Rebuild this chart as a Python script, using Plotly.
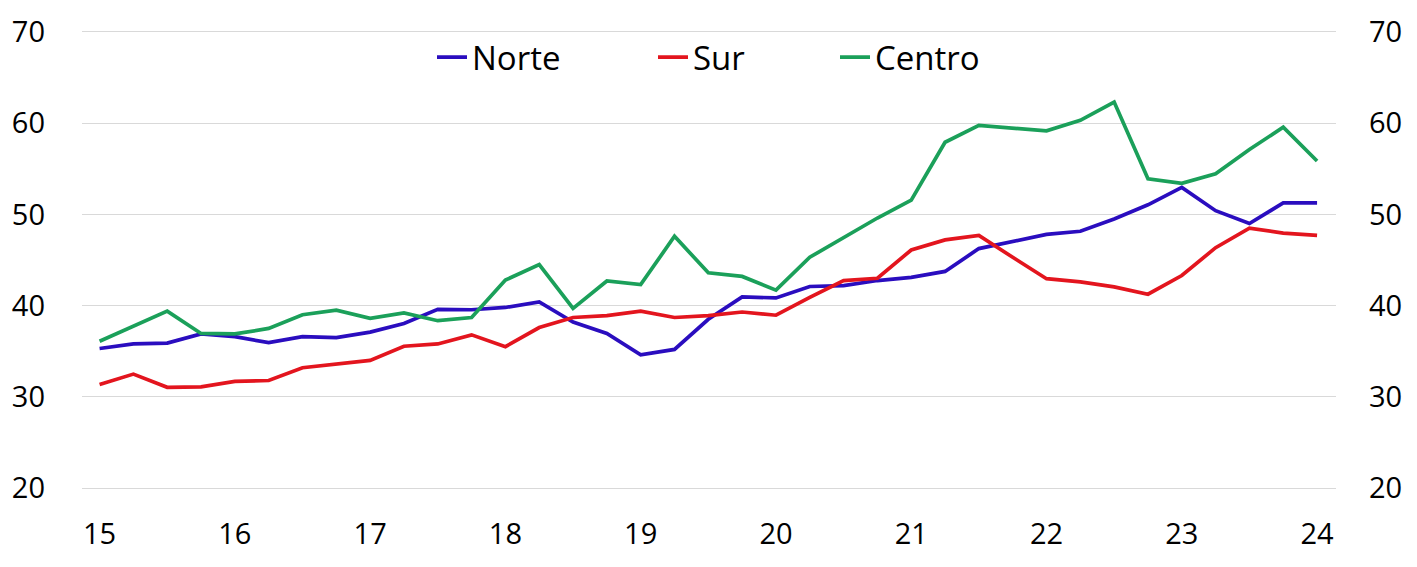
import plotly.graph_objects as go

# Quarterly positions (year labels 15..24)
x_vals = [15.0, 15.25, 15.5, 15.75, 16.0, 16.25, 16.5, 16.75, 17.0, 17.25, 17.5, 17.75,
          18.0, 18.25, 18.5, 18.75, 19.0, 19.25, 19.5, 19.75, 20.0, 20.25, 20.5, 20.75,
          21.0, 21.25, 21.5, 21.75, 22.0, 22.25, 22.5, 22.75, 23.0, 23.25, 23.5, 23.75, 24.0]

norte = [35.3, 35.8, 35.9, 36.9, 36.6, 35.95, 36.6, 36.5, 37.1, 38.05, 39.6, 39.55,
         39.8, 40.4, 38.2, 36.95, 34.6, 35.2, 38.5, 40.95, 40.85, 42.1, 42.2, 42.75,
         43.1, 43.75, 46.25, 47.05, 47.8, 48.15, 49.5, 51.05, 52.95, 50.4, 49.0, 51.25, 51.25]

sur = [31.35, 32.5, 31.05, 31.1, 31.7, 31.8, 33.2, 33.6, 34.0, 35.55, 35.8, 36.8,
       35.5, 37.6, 38.7, 38.9, 39.4, 38.7, 38.9, 39.3, 38.95, 40.9, 42.75, 43.0,
       46.1, 47.2, 47.7, 45.3, 42.95, 42.6, 42.05, 41.25, 43.3, 46.35, 48.5, 47.95, 47.7]

centro = [36.1, 37.7, 39.4, 36.95, 36.9, 37.5, 39.0, 39.5, 38.6, 39.2, 38.35, 38.7,
          42.8, 44.5, 39.7, 42.7, 42.3, 47.6, 43.6, 43.2, 41.7, 45.3, 47.5, 49.6,
          51.55, 57.9, 59.75, 59.45, 59.15, 60.3, 62.3, 53.9, 53.4, 54.45, 57.1, 59.55, 55.85]

x_tickvals = [15, 16, 17, 18, 19, 20, 21, 22, 23, 24]
x_ticktext = ["15", "16", "17", "18", "19", "20", "21", "22", "23", "24"]
y_tickvals = [20, 30, 40, 50, 60, 70]

FONT = "Open Sans"
W, H = 1417, 567
ML, MR, MT, MB = 82, 81, 29.7, 76.6

fig = go.Figure()
series = [("Norte", norte, "#2A0DBF", "legend"),
          ("Sur", sur, "#E3151E", "legend2"),
          ("Centro", centro, "#1BA05A", "legend3")]
for name, vals, col, lg in series:
    fig.add_trace(go.Scatter(x=x_vals, y=vals, mode="lines", name=name,
                             line=dict(color=col, width=3.7), legend=lg))

# invisible trace to carry the right axis
fig.add_trace(go.Scatter(x=x_vals, y=norte, yaxis="y2", mode="lines",
                         line=dict(color="rgba(0,0,0,0)"), showlegend=False,
                         hoverinfo="skip"))

pw = W - ML - MR
ph = H - MT - MB

def px_x(p):
    return (p - ML) / pw

def px_y(p):
    return 1 - (p - MT) / ph

leg_common = dict(orientation="h", xanchor="left", yanchor="middle",
                  bgcolor="rgba(0,0,0,0)", borderwidth=0,
                  font=dict(family=FONT, size=33, color="#000000"))

fig.update_layout(
    width=W, height=H,
    margin=dict(l=ML, r=MR, t=MT, b=MB),
    paper_bgcolor="white", plot_bgcolor="white",
    font=dict(family=FONT, size=29, color="#000000"),
    xaxis=dict(range=[14.87, 24.14], tickvals=x_tickvals, ticktext=x_ticktext,
               showgrid=False, zeroline=False, showline=False, ticks="",
               ticklabelstandoff=24,
               tickfont=dict(family=FONT, size=29, color="#000000")),
    yaxis=dict(range=[19.8, 70.2], tickvals=y_tickvals, showgrid=True,
               gridcolor="#d9d9d9", gridwidth=1, zeroline=False, showline=False,
               ticks="", ticklabelstandoff=36,
               tickfont=dict(family=FONT, size=29, color="#000000")),
    yaxis2=dict(range=[19.8, 70.2], tickvals=y_tickvals, overlaying="y", side="right",
                showgrid=False, zeroline=False, showline=False, ticks="",
                ticklabelstandoff=32,
                tickfont=dict(family=FONT, size=29, color="#000000")),
    legend=dict(x=px_x(432), y=px_y(57), **leg_common),
    legend2=dict(x=px_x(653), y=px_y(57), **leg_common),
    legend3=dict(x=px_x(835), y=px_y(57), **leg_common),
)

fig.write_html("out.html", config={"displayModeBar": False},
               post_script="document.body.style.margin='0';document.body.style.overflow='hidden';")
